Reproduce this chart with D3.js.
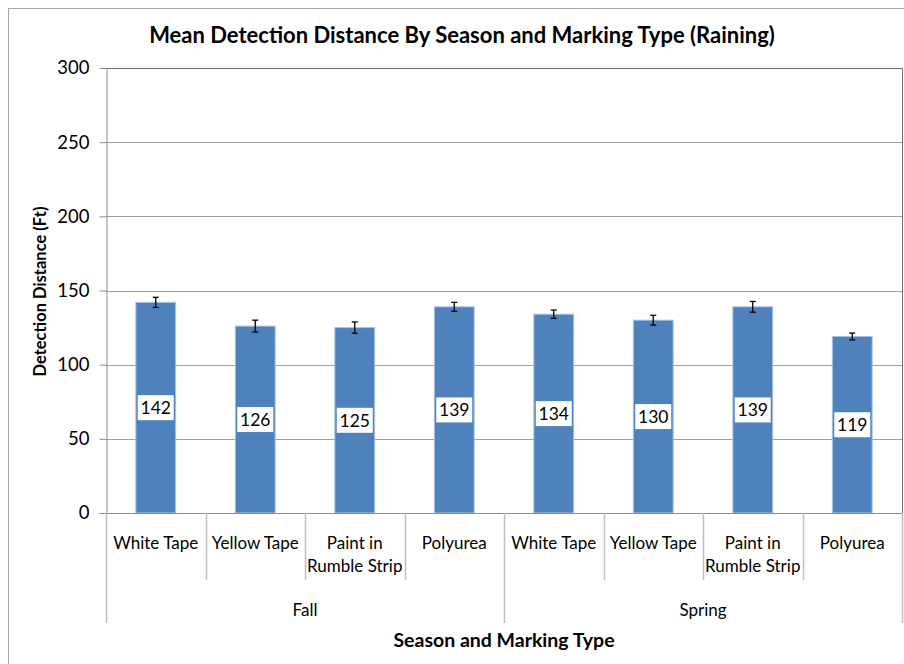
<!DOCTYPE html>
<html>
<head>
<meta charset="utf-8">
<script src="https://cdn.jsdelivr.net/npm/d3@7"></script>
<style>
  body { margin: 0; background: #fff; }
  svg text { font-family: Lato, "Open Sans", sans-serif; fill: #000; }
</style>
</head>
<body>
<div id="chart"></div>
<script>
// chart data
const seasons = ["Fall", "Spring"];
const markings = ["White Tape", "Yellow Tape", "Paint in\nRumble Strip", "Polyurea"];
const fallMeans = [142, 126, 125, 139];
const springMeans = [134, 130, 139, 119];
const fallErrors = [3.4, 4, 3.8, 3];
const springErrors = [2.8, 3.3, 3.6, 2.3];
const yTicks = [0, 50, 100, 150, 200, 250, 300];

const width = 904,
      height = 664;
const margin = { left: 106, right: 2, top: 68, bottom: 151 };

// flatten into one row per bar
const rows = [];
seasons.forEach((s, i) => {
  const means = i === 0 ? fallMeans : springMeans;
  const errs = i === 0 ? fallErrors : springErrors;
  markings.forEach((m, j) => {
    rows.push({ key: s + "|" + j, season: s, marking: m, value: means[j], err: errs[j] });
  });
});

const svg = d3.select("#chart").append("svg")
    .attr("width", width)
    .attr("height", height);

// outer chart frame
svg.append("rect")
    .attr("x", 8.5).attr("y", 8.5)
    .attr("width", width).attr("height", height)
    .attr("fill", "none")
    .attr("stroke", "#a6a6a6");

const x = d3.scaleBand()
    .domain(rows.map(d => d.key))
    .range([margin.left, width - margin.right])
    .paddingInner(0.6)
    .paddingOuter(0.3);

const y = d3.scaleLinear()
    .domain([0, 300])
    .range([height - margin.bottom, margin.top]);

const step = x.step();
const x0 = margin.left, x1 = width - margin.right;
const y0 = y(0);

// gridlines
svg.append("g")
  .selectAll("line")
  .data(yTicks.filter(t => t > 0 && t < 300))
  .join("line")
    .attr("x1", x0).attr("x2", x1)
    .attr("y1", d => Math.round(y(d)) + 0.5)
    .attr("y2", d => Math.round(y(d)) + 0.5)
    .attr("stroke", "#a0a0a0");

// plot area border (top + right)
svg.append("path")
    .attr("d", `M${x0},${Math.round(y(300)) + 0.5}H${x1 + 0.5}V${y0}`)
    .attr("fill", "none")
    .attr("stroke", "#6e6e6e");

// y axis
const yAxis = svg.append("g")
    .attr("transform", `translate(${x0 + 0.5},0)`)
    .call(d3.axisLeft(y).tickValues(yTicks).tickSize(7).tickPadding(10));
yAxis.select(".domain").attr("stroke", "#8c8c8c");
yAxis.selectAll(".tick line").attr("stroke", "#8c8c8c");
yAxis.selectAll(".tick text")
    .style("font-size", "18.5px")
    .style("font-family", "Lato, sans-serif")
    .attr("fill", "#000");

// bars
svg.append("g")
  .selectAll("rect")
  .data(rows)
  .join("rect")
    .attr("x", d => x(d.key))
    .attr("y", d => y(d.value))
    .attr("width", x.bandwidth())
    .attr("height", d => y0 - y(d.value))
    .attr("fill", "#4f81bd")
    .attr("stroke", "#a9c1e0")
    .attr("stroke-width", 1);

// error bars
const eb = svg.append("g")
    .attr("stroke", "#000")
    .attr("stroke-width", 1.3)
    .selectAll("g")
    .data(rows)
    .join("g")
    .attr("transform", d => `translate(${x(d.key) + x.bandwidth() / 2},0)`);
eb.append("line")
    .attr("y1", d => y(d.value + d.err)).attr("y2", d => y(d.value - d.err));
eb.append("line")
    .attr("x1", -3).attr("x2", 3)
    .attr("y1", d => y(d.value + d.err)).attr("y2", d => y(d.value + d.err));
eb.append("line")
    .attr("x1", -3).attr("x2", 3)
    .attr("y1", d => y(d.value - d.err)).attr("y2", d => y(d.value - d.err));

// value labels in white boxes, centered on the bar
const lab = svg.append("g")
  .selectAll("g")
  .data(rows)
  .join("g")
    .attr("transform", d => `translate(${x(d.key) + x.bandwidth() / 2},${(y0 + y(d.value)) / 2})`);
lab.append("rect")
    .attr("x", -18).attr("y", -12.5)
    .attr("width", 36).attr("height", 25)
    .attr("fill", "#fff");
lab.append("text")
    .attr("text-anchor", "middle")
    .attr("dy", "0.36em")
    .style("font-size", "17.5px")
    .text(d => d.value);

// category axis: separators and labels
const axisG = svg.append("g");
axisG.append("line")
    .attr("x1", x0).attr("x2", x1 + 0.5)
    .attr("y1", y0 + 0.5).attr("y2", y0 + 0.5)
    .attr("stroke", "#8c8c8c");

const nCat = rows.length;
const sepData = d3.range(nCat + 1).map(i => ({
  xpos: Math.round(x0 + i * step) + 0.5,
  major: i % markings.length === 0
}));
axisG.selectAll("line.sep")
  .data(sepData)
  .join("line")
    .attr("class", "sep")
    .attr("x1", d => d.xpos).attr("x2", d => d.xpos)
    .attr("y1", y0)
    .attr("y2", d => d.major ? y0 + 110 : y0 + 67)
    .attr("stroke", "#bfbfbf")
    .attr("stroke-width", 1.5);

axisG.selectAll("text.cat")
  .data(rows)
  .join("text")
    .attr("class", "cat")
    .attr("x", d => x(d.key) + x.bandwidth() / 2)
    .attr("y", y0 + 36)
    .attr("text-anchor", "middle")
    .style("font-size", "17px")
    .each(function(d) {
      const parts = d.marking.split("\n");
      d3.select(this).selectAll("tspan")
        .data(parts)
        .join("tspan")
        .attr("x", x(d.key) + x.bandwidth() / 2)
        .attr("dy", (p, i) => i === 0 ? 0 : 23)
        .text(p => p);
    });

axisG.selectAll("text.season")
  .data(seasons)
  .join("text")
    .attr("class", "season")
    .attr("x", (d, i) => x0 + (i + 0.5) * markings.length * step)
    .attr("y", y0 + 103)
    .attr("text-anchor", "middle")
    .style("font-size", "17px")
    .text(d => d);

// titles
svg.append("text")
    .attr("x", 462)
    .attr("y", 43)
    .attr("text-anchor", "middle")
    .style("font-size", "22px")
    .style("font-weight", "bold")
    .text("Mean Detection Distance By Season and Marking Type (Raining)");

svg.append("text")
    .attr("x", (x0 + x1) / 2)
    .attr("y", 647)
    .attr("text-anchor", "middle")
    .style("font-size", "19.5px")
    .style("font-weight", "bold")
    .text("Season and Marking Type");

svg.append("text")
    .attr("transform", `translate(46,${(y0 + y(300)) / 2 + 1}) rotate(-90)`)
    .attr("text-anchor", "middle")
    .style("font-size", "16.5px")
    .style("font-weight", "bold")
    .text("Detection Distance  (Ft)");
</script>
</body>
</html>
